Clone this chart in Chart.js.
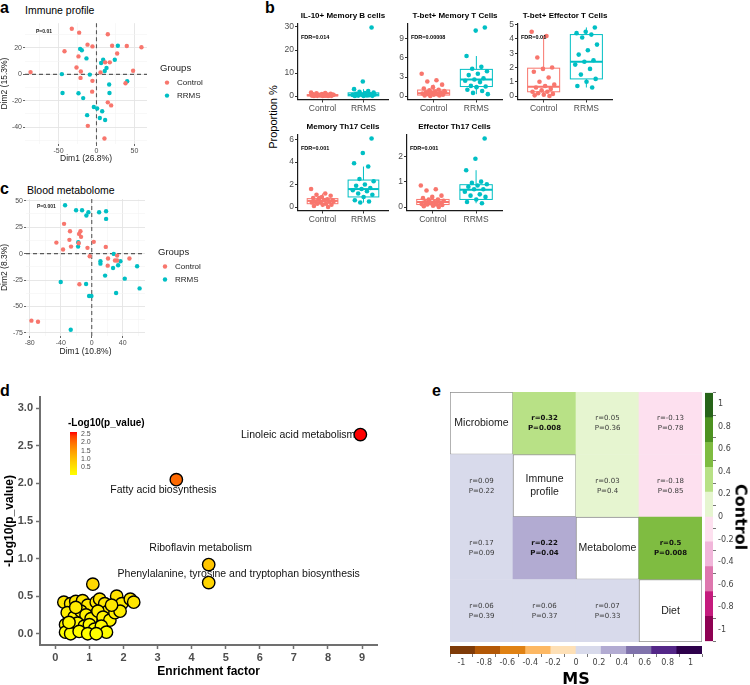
<!DOCTYPE html>
<html>
<head>
<meta charset="utf-8">
<script src="https://cdn.jsdelivr.net/npm/chart.js@4.4.1/dist/chart.umd.min.js"></script>
<style>
  body { margin: 0; background: #fff; }
  #fig { position: relative; width: 750px; height: 685px; overflow: hidden; font-family: "Liberation Sans", Arial, sans-serif; color: #000; }
  #fig canvas { position: absolute; }
  .tag { position: absolute; font-weight: bold; font-size: 16px; line-height: 1; }
  .ttl { position: absolute; font-size: 10.5px; line-height: 1; white-space: nowrap; }
  .rot { position: absolute; white-space: nowrap; line-height: 1; }
</style>
</head>
<body>
<div id="fig">
  <div class="tag" style="left:0;top:0">a</div>
  <div class="ttl" style="left:25px;top:5px">Immune profile</div>
  <canvas id="pcaImmune" width="250" height="150" style="left:0;top:18px"></canvas>

  <div class="tag" style="left:0;top:181px">c</div>
  <div class="ttl" style="left:27px;top:185px">Blood metabolome</div>
  <canvas id="pcaMetab" width="250" height="168" style="left:0;top:193px"></canvas>

  <div class="tag" style="left:265px;top:0">b</div>
  <div class="rot" style="left:273px;top:117px;font-size:11px;transform:translate(-50%,-50%) rotate(-90deg)">Proportion %</div>
  <canvas id="boxIl10" width="122" height="112" style="left:270px;top:8px"></canvas>
  <canvas id="boxTbetMem" width="126" height="112" style="left:380px;top:8px"></canvas>
  <canvas id="boxTbetEff" width="126" height="112" style="left:490px;top:8px"></canvas>
  <canvas id="boxTh17Mem" width="122" height="112" style="left:270px;top:119px"></canvas>
  <canvas id="boxTh17Eff" width="127" height="112" style="left:379px;top:119px"></canvas>

  <div class="tag" style="left:0;top:383px">d</div>
  <canvas id="enrich" width="385" height="300" style="left:0;top:385px"></canvas>

  <div class="tag" style="left:432px;top:383px">e</div>
  <canvas id="corrGrid" width="252" height="250" style="left:450px;top:392px"></canvas>
  <canvas id="cbControl" width="40" height="262" style="left:705px;top:386px"></canvas>
  <canvas id="cbMs" width="272" height="24" style="left:440px;top:646px"></canvas>
  <div class="rot" style="left:741px;top:517px;font:bold 16px 'DejaVu Sans',Verdana,sans-serif;transform:translate(-50%,-50%) rotate(90deg)">Control</div>
  <div class="rot" style="left:576px;top:678px;font:bold 16px 'DejaVu Sans',Verdana,sans-serif;transform:translate(-50%,-50%)">MS</div>
</div>

<script>
const RED = '#F8766D';
const TEAL = '#00BFC4';
const SANS = '"Liberation Sans", Arial, sans-serif';
const DEJAVU = '"DejaVu Sans", Verdana, sans-serif';

// a: immune profile PCA
const immCtrlDim1 = [-32.5, -22.8, 14.9, -42.1, -11.8, -5.3, 20.6, 39.9, 59.2, 27.2, -23.7, 11.4, 17.5, -26.3, -20.6, -86.8, 5.3, 48.2, -21, -5.3, 38.2, -5.7, 14.9, 19.3, -11.4, 10.5];
const immCtrlDim2 = [34.6, 31.6, 30.4, 17.5, 22.5, 21.2, 21.7, 21.5, 20.5, 15.8, 13.6, 9.1, 9.1, 5.2, 2.2, 1.7, 1.5, 2.7, -2.7, -4.9, -6.7, -13.1, -21.2, -23.5, -39, -48.6];
const immRrmsDim1 = [-21.5, -19.3, 28.1, 8.8, 6.1, -13.2, 24.1, 13.2, 10.9, -45.6, -8.8, 40.4, 16.7, -44.7, -23.7, 17.1, -17.5, -3.5, 0.9, 7.5, -12.3, 4.4, 11.4];
const immRrmsDim2 = [19.3, 18.3, 21.7, 11.1, 8.6, 12.1, 11.1, 4.9, 2.5, 0.2, -0.2, -5.2, -7.7, -14.1, -14.3, -14.1, -18, -24.7, -25.9, -27.9, -30.9, -33.1, -34.6];

// c: blood metabolome PCA
const metCtrlDim1 = [-35.7, -28, -14.6, -16.3, -13.8, -28.8, -45.6, -16.8, 2.6, -26.7, -37, -5.5, 18.1, -2.6, 21, 32.7, 30, 32.7, 48.6, 20.6, -15.9, -77.8, -69.3];
const metCtrlDim2 = [28.1, 21.1, 21.1, 18.6, 15.8, 13, 10.4, 9.8, 11.1, 6.6, 3.8, 5.4, 6.3, -2.5, -4.7, -1.9, -6.6, -6.6, -4.7, -11.4, -29, -63.4, -64.4];
const metRrmsDim1 = [-34.4, -20.2, -12.5, -6.9, -4.3, 9.5, 18.5, 18.5, -17.6, -17.4, 28.4, 11.2, 11.2, 27.5, 34, 37, 58.5, 17.2, -40, -7.3, 42.6, 61.7, 31.4, -3.4, -0.4, -27.1];
const metRrmsDim2 = [45.7, 41, 41, 36, 39.1, 39.1, 40, 32.8, 6.6, 10.7, -0.3, -7.3, -9.5, -13.6, -11, -7.3, -12, -20.8, -26.8, -28.7, -23.7, -32.9, -37.2, -40.1, -40.1, -72];

// b: cell proportions (%), box = [whisker low, q1, median, q3, whisker high]
const bGroups = ['Control', 'RRMS'];
const il10Ctrl = [1.5, 1.3, 1.2, 1.0, 0.9, 0.8, 0.7, 0.6, 0.5, 0.5, 0.4, 0.3, 0.3, 0.2, 0.2, 0.1, 0.1, 0.05, 0, 0, 0.4, 0.6, 0.2];
const il10Rrms = [29.8, 6.3, 3.0, 2.2, 1.8, 1.5, 1.3, 1.0, 0.8, 0.6, 0.5, 0.3, 0.2, 0.1, 0, 0, 0.4, 1.1, 0.7];
const il10CtrlBox = [0, 0.1, 0.3, 0.6, 1.5];
const il10RrmsBox = [0, 0.1, 0.6, 1.4, 3.0];

const tbetMemCtrl = [3.5, 2.5, 2.3, 1.8, 1.4, 1.2, 1.0, 0.9, 0.8, 0.7, 0.6, 0.5, 0.5, 0.4, 0.3, 0.3, 0.2, 0.2, 0.1, 0.1, 0, 0.6, 0.4];
const tbetMemRrms = [10.8, 10.3, 6.3, 4.6, 4.3, 3.9, 3.5, 3.3, 2.8, 2.6, 2.4, 2.2, 1.6, 1.5, 1.4, 1.0, 0.8, 0.5, 0.3];
const tbetMemCtrlBox = [0, 0.15, 0.45, 0.95, 1.8];
const tbetMemRrmsBox = [0.3, 1.5, 2.6, 4.2, 6.3];

const tbetEffCtrl = [4.5, 4.2, 2.7, 2.0, 1.9, 1.7, 1.3, 1.0, 0.8, 0.7, 0.6, 0.5, 0.4, 0.3, 0.3, 0.2, 0.15, 0.1, 0.05, 0];
const tbetEffRrms = [4.8, 4.5, 4.4, 4.3, 4.1, 3.6, 3.2, 2.9, 2.5, 2.4, 2.2, 1.9, 1.5, 1.2, 1.0, 0.7, 0.6];
const tbetEffCtrlBox = [0, 0.3, 0.65, 1.95, 4.2];
const tbetEffRrmsBox = [0.6, 1.2, 2.4, 4.3, 4.8];

const th17MemCtrl = [1.6, 1.2, 1.1, 1.0, 0.9, 0.8, 0.7, 0.7, 0.6, 0.6, 0.5, 0.5, 0.4, 0.4, 0.3, 0.3, 0.2, 0.2, 0.1, 0, 0.8, 0.5];
const th17MemRrms = [6.1, 4.8, 3.9, 3.6, 2.5, 2.3, 2.0, 1.9, 1.7, 1.6, 1.5, 1.4, 1.2, 1.1, 0.9, 0.6, 0.5, 0.4];
const th17MemCtrlBox = [0, 0.3, 0.55, 0.75, 1.2];
const th17MemRrmsBox = [0.4, 0.9, 1.6, 2.4, 3.6];

const th17EffCtrl = [0.85, 0.7, 0.65, 0.45, 0.4, 0.35, 0.3, 0.3, 0.25, 0.2, 0.2, 0.18, 0.15, 0.12, 0.1, 0.1, 0.08, 0.05, 0.03, 0, 0.22];
const th17EffRrms = [2.7, 1.9, 1.45, 1.0, 0.95, 0.9, 0.85, 0.8, 0.7, 0.7, 0.6, 0.5, 0.45, 0.4, 0.3, 0.2, 0.15];
const th17EffCtrlBox = [0, 0.1, 0.2, 0.3, 0.45];
const th17EffRrmsBox = [0.15, 0.3, 0.68, 0.88, 1.45];

// d: pathway enrichment
const pathEnrich = [0.25, 0.45, 0.6, 0.8, 0.95, 1.2, 1.3, 1.45, 1.55, 1.8, 1.95, 2.2, 2.3, 0.35, 0.55, 0.75, 0.9, 1.05, 1.25, 1.4, 1.6, 1.75, 1.9, 0.3, 0.5, 0.65, 0.85, 1.0, 1.15, 1.35, 1.5, 0.3, 0.45, 0.7, 0.95, 1.2, 0.6, 1.65, 0.4, 1.1, 4.5, 4.5, 3.55, 8.95];
const pathLogP = [0.42, 0.4, 0.43, 0.44, 0.38, 0.42, 0.46, 0.4, 0.3, 0.5, 0.4, 0.46, 0.42, 0.28, 0.22, 0.3, 0.25, 0.2, 0.3, 0.22, 0.18, 0.28, 0.3, 0.12, 0.08, 0.14, 0.1, 0.12, 0.06, 0.1, 0.02, 0.02, 0, 0.03, 0, 0, 0.35, 0.38, 0.15, 0.66, 0.68, 0.92, 2.05, 2.65];
const pathNames = Array(40).fill('').concat(['Phenylalanine, tyrosine and tryptophan biosynthesis', 'Riboflavin metabolism', 'Fatty acid biosynthesis', 'Linoleic acid metabolism']);
const enrichTicks = [0, 1, 2, 3, 4, 5, 6, 7, 8, 9];
const logPTicks = [0, 0.5, 1, 1.5, 2, 2.5, 3];
const logPLegendTicks = [0.5, 1, 1.5, 2, 2.5];

// e: cross-block correlations (upper = Control, lower = MS)
const blockNames = ['Microbiome', 'Immune\nprofile', 'Metabolome', 'Diet'];
const corrR = [
  [null, 0.32, 0.05, -0.13],
  [0.09, null, 0.03, -0.18],
  [0.17, 0.22, null, 0.5],
  [0.06, 0.06, 0.07, null]
];
const corrP = [
  [null, 0.008, 0.36, 0.78],
  [0.22, null, 0.4, 0.85],
  [0.09, 0.04, null, 0.008],
  [0.39, 0.37, 0.33, null]
];
const binEdges = [-1, -0.8, -0.6, -0.4, -0.2, 0, 0.2, 0.4, 0.6, 0.8, 1];
const controlPalette = ['#8e0152', '#c51b7d', '#de77ae', '#f1b6da', '#fde0ef', '#e6f5d0', '#b8e186', '#7fbc41', '#4d9221', '#276419'];
const msPalette = ['#7f3b08', '#b35806', '#e08214', '#fdb863', '#fee0b6', '#d8daeb', '#b2abd2', '#8073ac', '#542788', '#2d004b'];

Chart.defaults.font.family = SANS;
Chart.defaults.color = '#4d4d4d';
Chart.defaults.animation = false;
Chart.defaults.responsive = false;
Chart.defaults.plugins.legend.display = false;
Chart.defaults.plugins.tooltip.enabled = false;

function fixWidth(w) { return s => { s.width = w; }; }
function fixHeight(h) { return s => { s.height = h; }; }
function useTicks(vals) { return s => { s.ticks = vals.map(v => ({ value: v })); }; }
function padRange(vals) {
  const lo = Math.min(...vals), hi = Math.max(...vals), d = (hi - lo) * 0.05;
  return [lo - d, hi + d];
}
function toPoints(xs, ys) { return xs.map((x, i) => ({ x, y: ys[i] })); }

// ---------- PCA panels ----------
function pcaAxis(range, major, minor, title, size, isX) {
  const on = c => c.tick && major.includes(c.tick.value);
  return {
    type: 'linear', min: range[0], max: range[1],
    afterBuildTicks: useTicks(major.concat(minor)),
    afterFit: isX ? fixHeight(size) : fixWidth(size),
    border: { display: false },
    grid: {
      color: c => on(c) ? '#e4e4e4' : '#f3f3f3',
      lineWidth: c => on(c) ? 0.9 : 0.6,
      tickColor: c => on(c) ? '#555' : 'rgba(0,0,0,0)',
      tickLength: 2
    },
    ticks: { autoSkip: false, maxRotation: 0, padding: 1, font: { size: 7 }, color: '#4d4d4d',
      callback: v => major.includes(v) ? String(v) : '' },
    title: { display: true, text: title, color: '#1a1a1a', font: { size: 8.5 },
      padding: isX ? { top: 0, bottom: 4 } : { top: 0, bottom: 0 } }
  };
}

function pcaChart(id, o) {
  const xr = padRange(o.ctrlX.concat(o.rrmsX));
  const yr = padRange(o.ctrlY.concat(o.rrmsY));
  const decor = {
    id: 'pcaDecor',
    beforeDatasetsDraw(chart) {
      const { ctx, chartArea: a, scales: { x, y } } = chart;
      const x0 = x.getPixelForValue(0), y0 = y.getPixelForValue(0);
      ctx.save();
      ctx.strokeStyle = '#5a5a5a';
      ctx.lineWidth = 1.1;
      ctx.setLineDash([4, 3]);
      ctx.beginPath();
      ctx.moveTo(x0, a.top); ctx.lineTo(x0, a.bottom);
      ctx.moveTo(a.left, y0); ctx.lineTo(a.right, y0);
      ctx.stroke();
      ctx.restore();
    },
    afterDatasetsDraw(chart) {
      const { ctx, chartArea: a } = chart;
      ctx.save();
      ctx.textBaseline = 'middle';
      ctx.fillStyle = '#222';
      ctx.font = 'bold 5px ' + SANS;
      ctx.fillText(o.pText, a.left + 11, a.top + 8);
      const cy = (a.top + a.bottom) / 2;
      ctx.font = '9.5px ' + SANS;
      ctx.fillText('Groups', a.right + 13, cy - 15);
      ctx.font = '8px ' + SANS;
      [['Control', RED, -1], ['RRMS', TEAL, 12]].forEach(([name, col, dy]) => {
        ctx.fillStyle = col;
        ctx.beginPath();
        ctx.arc(a.right + 20, cy + dy, 2.2, 0, Math.PI * 2);
        ctx.fill();
        ctx.fillStyle = '#222';
        ctx.fillText(name, a.right + 30, cy + dy);
      });
      ctx.restore();
    }
  };
  return new Chart(document.getElementById(id), {
    type: 'scatter',
    data: {
      datasets: [
        { data: toPoints(o.ctrlX, o.ctrlY), backgroundColor: RED, borderWidth: 0, pointRadius: 2.2 },
        { data: toPoints(o.rrmsX, o.rrmsY), backgroundColor: TEAL, borderWidth: 0, pointRadius: 2.2 }
      ]
    },
    options: {
      layout: { padding: { top: o.padTop, right: o.padRight, left: 0, bottom: 0 } },
      scales: {
        x: pcaAxis(xr, o.xMajor, o.xMinor, o.xTitle, o.xH, true),
        y: pcaAxis(yr, o.yMajor, o.yMinor, o.yTitle, o.yW, false)
      }
    },
    plugins: [decor]
  });
}

pcaChart('pcaImmune', {
  ctrlX: immCtrlDim1, ctrlY: immCtrlDim2, rrmsX: immRrmsDim1, rrmsY: immRrmsDim2,
  xMajor: [-50, 0, 50], xMinor: [-75, -25, 25],
  yMajor: [-40, -20, 0, 20], yMinor: [-50, -30, -10, 10, 30],
  xTitle: 'Dim1 (26.8%)', yTitle: 'Dim2 (15.3%)', pText: 'P=0.01',
  padTop: 2, padRight: 103, xH: 24, yW: 25
});

pcaChart('pcaMetab', {
  ctrlX: metCtrlDim1, ctrlY: metCtrlDim2, rrmsX: metRrmsDim1, rrmsY: metRrmsDim2,
  xMajor: [-80, -40, 0, 40], xMinor: [-60, -20, 20, 60],
  yMajor: [-75, -50, -25, 0, 25, 50], yMinor: [-62.5, -37.5, -12.5, 12.5, 37.5],
  xTitle: 'Dim1 (10.8%)', yTitle: 'Dim2 (8.3%)', pText: 'P=0.001',
  padTop: 6, padRight: 105, xH: 25, yW: 26
});

// ---------- box plots ----------
function boxChart(id, o) {
  const yr = padRange(o.ctrl.concat(o.rrms));
  const jitter = i => (((i * 0.6180339) % 1) - 0.5) * 0.56;
  const boxes = {
    id: 'boxes',
    beforeDatasetsDraw(chart) {
      const { ctx, scales: { x, y } } = chart;
      ctx.save();
      [[1, o.ctrlBox, RED], [2, o.rrmsBox, TEAL]].forEach(([pos, b, col]) => {
        const xl = x.getPixelForValue(pos - 0.375), xr = x.getPixelForValue(pos + 0.375), xc = x.getPixelForValue(pos);
        const [lo, q1, med, q3, hi] = b.map(v => y.getPixelForValue(v));
        ctx.strokeStyle = col;
        ctx.lineWidth = 1;
        ctx.beginPath();
        ctx.moveTo(xc, q3); ctx.lineTo(xc, hi);
        ctx.moveTo(xc, q1); ctx.lineTo(xc, lo);
        ctx.stroke();
        ctx.fillStyle = '#fff';
        ctx.fillRect(xl, q3, xr - xl, q1 - q3);
        ctx.strokeRect(xl, q3, xr - xl, q1 - q3);
        ctx.lineWidth = 2;
        ctx.beginPath();
        ctx.moveTo(xl, med); ctx.lineTo(xr, med);
        ctx.stroke();
      });
      ctx.restore();
    },
    afterDatasetsDraw(chart) {
      const { ctx, chartArea: a } = chart;
      ctx.save();
      ctx.textBaseline = 'middle';
      ctx.fillStyle = '#000';
      ctx.textAlign = 'center';
      ctx.font = 'bold 8px ' + SANS;
      ctx.fillText(o.title, (a.left + a.right) / 2, a.top - 8);
      ctx.textAlign = 'left';
      ctx.font = 'bold 5.5px ' + SANS;
      ctx.fillText(o.fdr, a.left + 3, a.top + 13.5);
      ctx.restore();
    }
  };
  const axisCommon = {
    border: { display: true, color: '#1a1a1a', width: 1.2 },
    grid: { drawOnChartArea: false, tickLength: 3, tickColor: '#333' }
  };
  return new Chart(document.getElementById(id), {
    type: 'scatter',
    data: {
      datasets: [
        { data: o.ctrl.map((v, i) => ({ x: 1 + jitter(i), y: v })), backgroundColor: RED, borderWidth: 0, pointRadius: 2.3 },
        { data: o.rrms.map((v, i) => ({ x: 2 + jitter(i + 3), y: v })), backgroundColor: TEAL, borderWidth: 0, pointRadius: 2.3 }
      ]
    },
    options: {
      layout: { padding: { top: 16, right: 0, left: 0, bottom: 0 } },
      scales: {
        x: Object.assign({
          type: 'linear', min: 0.4, max: 2.6,
          afterBuildTicks: useTicks([1, 2]), afterFit: fixHeight(20.5),
          ticks: { autoSkip: false, maxRotation: 0, padding: 1, font: { size: 8.5 }, color: '#4d4d4d', callback: v => bGroups[v - 1] }
        }, axisCommon),
        y: Object.assign({
          type: 'linear', min: yr[0], max: yr[1],
          afterBuildTicks: useTicks(o.ticks), afterFit: fixWidth(28),
          ticks: { autoSkip: false, padding: 1, font: { size: 8.5 }, color: '#4d4d4d' }
        }, axisCommon)
      }
    },
    plugins: [boxes]
  });
}

boxChart('boxIl10', { title: 'IL-10+ Memory B cells', fdr: 'FDR=0.014', ctrl: il10Ctrl, rrms: il10Rrms, ctrlBox: il10CtrlBox, rrmsBox: il10RrmsBox, ticks: [0, 10, 20, 30] });
boxChart('boxTbetMem', { title: 'T-bet+ Memory T Cells', fdr: 'FDR=0.00008', ctrl: tbetMemCtrl, rrms: tbetMemRrms, ctrlBox: tbetMemCtrlBox, rrmsBox: tbetMemRrmsBox, ticks: [0, 3, 6, 9] });
boxChart('boxTbetEff', { title: 'T-bet+ Effector T Cells', fdr: 'FDR=0.01', ctrl: tbetEffCtrl, rrms: tbetEffRrms, ctrlBox: tbetEffCtrlBox, rrmsBox: tbetEffRrmsBox, ticks: [0, 1, 2, 3, 4, 5] });
boxChart('boxTh17Mem', { title: 'Memory Th17 Cells', fdr: 'FDR=0.001', ctrl: th17MemCtrl, rrms: th17MemRrms, ctrlBox: th17MemCtrlBox, rrmsBox: th17MemRrmsBox, ticks: [0, 2, 4, 6] });
boxChart('boxTh17Eff', { title: 'Effector Th17 Cells', fdr: 'FDR=0.001', ctrl: th17EffCtrl, rrms: th17EffRrms, ctrlBox: th17EffCtrlBox, rrmsBox: th17EffRrmsBox, ticks: [0, 1, 2] });

// ---------- d: enrichment ----------
const pMin = Math.min(...pathLogP), pMax = Math.max(...pathLogP);
function pColor(v) {
  const t = Math.max(0, Math.min(1, (v - pMin) / (pMax - pMin)));
  return `rgb(255,${Math.round(255 * Math.pow(1 - t, 0.6))},0)`;
}
const labelAnchor = {
  'Linoleic acid metabolism': { align: 'right', dx: -5, dy: 0.5 },
  'Fatty acid biosynthesis': { align: 'center', dx: -13, dy: 10 },
  'Riboflavin metabolism': { align: 'center', dx: -8, dy: -16 },
  'Phenylalanine, tyrosine and tryptophan biosynthesis': { align: 'center', dx: 30, dy: -9 }
};
const enrichDecor = {
  id: 'enrichDecor',
  afterDatasetsDraw(chart) {
    const { ctx } = chart;
    const meta = chart.getDatasetMeta(0);
    ctx.save();
    ctx.textBaseline = 'middle';
    ctx.fillStyle = '#111';
    ctx.font = '10.5px ' + SANS;
    pathNames.forEach((name, i) => {
      if (!name) return;
      const p = meta.data[i], an = labelAnchor[name];
      ctx.textAlign = an.align;
      ctx.fillText(name, p.x + an.dx, p.y + an.dy);
    });
    // colour bar legend
    const bx = 70, bw = 7, top = 47, bot = 90;
    const g = ctx.createLinearGradient(0, bot, 0, top);
    for (let k = 0; k <= 10; k++) g.addColorStop(k / 10, pColor(pMin + (pMax - pMin) * k / 10));
    ctx.fillStyle = g;
    ctx.fillRect(bx, top, bw, bot - top);
    ctx.textAlign = 'left';
    ctx.fillStyle = '#000';
    ctx.font = 'bold 10px ' + SANS;
    ctx.fillText('-Log10(p_value)', 68, 38);
    ctx.fillStyle = '#4d4d4d';
    ctx.font = '7px ' + SANS;
    logPLegendTicks.forEach(v => {
      const yy = bot - (v - pMin) / (pMax - pMin) * (bot - top);
      ctx.fillText(v.toFixed(1), bx + bw + 4, yy);
    });
    ctx.restore();
  }
};
const dAxis = {
  border: { display: true, color: '#707070', width: 2 },
  grid: { drawOnChartArea: false, tickLength: 4, tickColor: '#707070', tickWidth: 1.5 }
};
new Chart(document.getElementById('enrich'), {
  type: 'scatter',
  data: {
    datasets: [{
      data: toPoints(pathEnrich, pathLogP),
      backgroundColor: pathLogP.map(pColor),
      borderColor: '#000', borderWidth: 1.4, pointRadius: 6.2
    }]
  },
  options: {
    layout: { padding: { top: 12, right: 5, left: 0, bottom: 0 } },
    scales: {
      x: Object.assign({
        type: 'linear', min: -0.45, max: 9.45,
        afterBuildTicks: useTicks(enrichTicks), afterFit: fixHeight(40),
        ticks: { autoSkip: false, maxRotation: 0, padding: 2, font: { size: 11, weight: 'bold' }, color: '#4d4d4d' },
        title: { display: true, text: 'Enrichment factor', color: '#000', font: { size: 12, weight: 'bold' }, padding: { top: 0, bottom: 6 } }
      }, dAxis),
      y: Object.assign({
        type: 'linear', min: -0.15, max: 3.15,
        afterBuildTicks: useTicks(logPTicks), afterFit: fixWidth(40),
        ticks: { autoSkip: false, padding: 3, font: { size: 11, weight: 'bold' }, color: '#4d4d4d', callback: v => v.toFixed(1) },
        title: { display: true, text: '-Log10(p_value)', color: '#000', font: { size: 12, weight: 'bold' }, padding: { top: 2, bottom: 0 } }
      }, dAxis)
    }
  },
  plugins: [enrichDecor]
});

// ---------- e: correlation grid ----------
function binColor(r, pal) {
  return pal[Math.min(pal.length - 1, Math.floor((r + 1) / 0.2 + 1e-9))];
}
function cellColor(i, j) {
  if (i === j) return '#ffffff';
  return binColor(corrR[i][j], j > i ? controlPalette : msPalette);
}
const rowsBottomUp = blockNames.map((_, k) => blockNames.length - 1 - k);
const gridText = {
  id: 'gridText',
  afterDatasetsDraw(chart) {
    const { ctx } = chart;
    ctx.save();
    ctx.textAlign = 'center';
    ctx.textBaseline = 'middle';
    rowsBottomUp.forEach((i, d) => {
      chart.getDatasetMeta(d).data.forEach((el, j) => {
        const cx = el.x, cy = (el.y + el.base) / 2;
        if (i === j) {
          ctx.fillStyle = '#1a1a1a';
          ctx.font = '10.5px ' + SANS;
          const lines = blockNames[i].split('\n');
          lines.forEach((t, k) => ctx.fillText(t, cx, cy + (k - (lines.length - 1) / 2) * 12.5));
        } else {
          const sig = corrP[i][j] < 0.05;
          ctx.fillStyle = sig ? '#111' : '#3a3a3a';
          ctx.font = (sig ? 'bold ' : '') + '7px ' + DEJAVU;
          ctx.fillText('r=' + corrR[i][j], cx, cy - 5);
          ctx.fillText('P=' + corrP[i][j], cx, cy + 5);
        }
      });
    });
    ctx.restore();
  }
};
new Chart(document.getElementById('corrGrid'), {
  type: 'bar',
  data: {
    labels: blockNames,
    datasets: rowsBottomUp.map(i => ({
      data: blockNames.map(() => 1),
      backgroundColor: blockNames.map((_, j) => cellColor(i, j)),
      borderColor: '#8c8c8c',
      borderWidth: blockNames.map((_, j) => i === j ? 1 : 0),
      borderSkipped: false,
      barPercentage: 1,
      categoryPercentage: 1
    }))
  },
  options: {
    layout: { padding: 0 },
    scales: {
      x: { display: false, stacked: true },
      y: { display: false, stacked: true, min: 0, max: blockNames.length }
    }
  },
  plugins: [gridText]
});

const cbTickFont = { family: DEJAVU, size: 8 };
const cbLabel = v => String(Math.round(v * 10) / 10);
new Chart(document.getElementById('cbControl'), {
  type: 'bar',
  data: {
    labels: binEdges.slice(1).map(String).reverse(),
    datasets: [{ data: controlPalette.map(() => 1), backgroundColor: controlPalette.slice().reverse(), barPercentage: 1, categoryPercentage: 1 }]
  },
  options: {
    indexAxis: 'y',
    layout: { padding: { top: 6, bottom: 6, left: 0, right: 0 } },
    scales: {
      x: { display: false, min: 0, max: 1 },
      y: { display: false },
      cb: {
        type: 'linear', axis: 'y', position: 'right', min: -1, max: 1,
        afterBuildTicks: useTicks(binEdges), afterFit: fixWidth(32),
        border: { display: false },
        grid: { drawOnChartArea: false, tickLength: 3, tickColor: '#777' },
        ticks: { autoSkip: false, padding: 2, font: cbTickFont, color: '#444', callback: cbLabel }
      }
    }
  }
});
new Chart(document.getElementById('cbMs'), {
  type: 'bar',
  data: {
    labels: binEdges.slice(1).map(String),
    datasets: [{ data: msPalette.map(() => 1), backgroundColor: msPalette, barPercentage: 1, categoryPercentage: 1 }]
  },
  options: {
    layout: { padding: { top: 0, bottom: 0, left: 10, right: 10 } },
    scales: {
      x: { display: false },
      y: { display: false, min: 0, max: 1 },
      cb: {
        type: 'linear', axis: 'x', position: 'bottom', min: -1, max: 1,
        afterBuildTicks: useTicks(binEdges), afterFit: fixHeight(16),
        border: { display: false },
        grid: { drawOnChartArea: false, tickLength: 3, tickColor: '#777' },
        ticks: { autoSkip: false, maxRotation: 0, padding: 1, font: cbTickFont, color: '#444', callback: cbLabel }
      }
    }
  }
});
</script>
</body>
</html>
